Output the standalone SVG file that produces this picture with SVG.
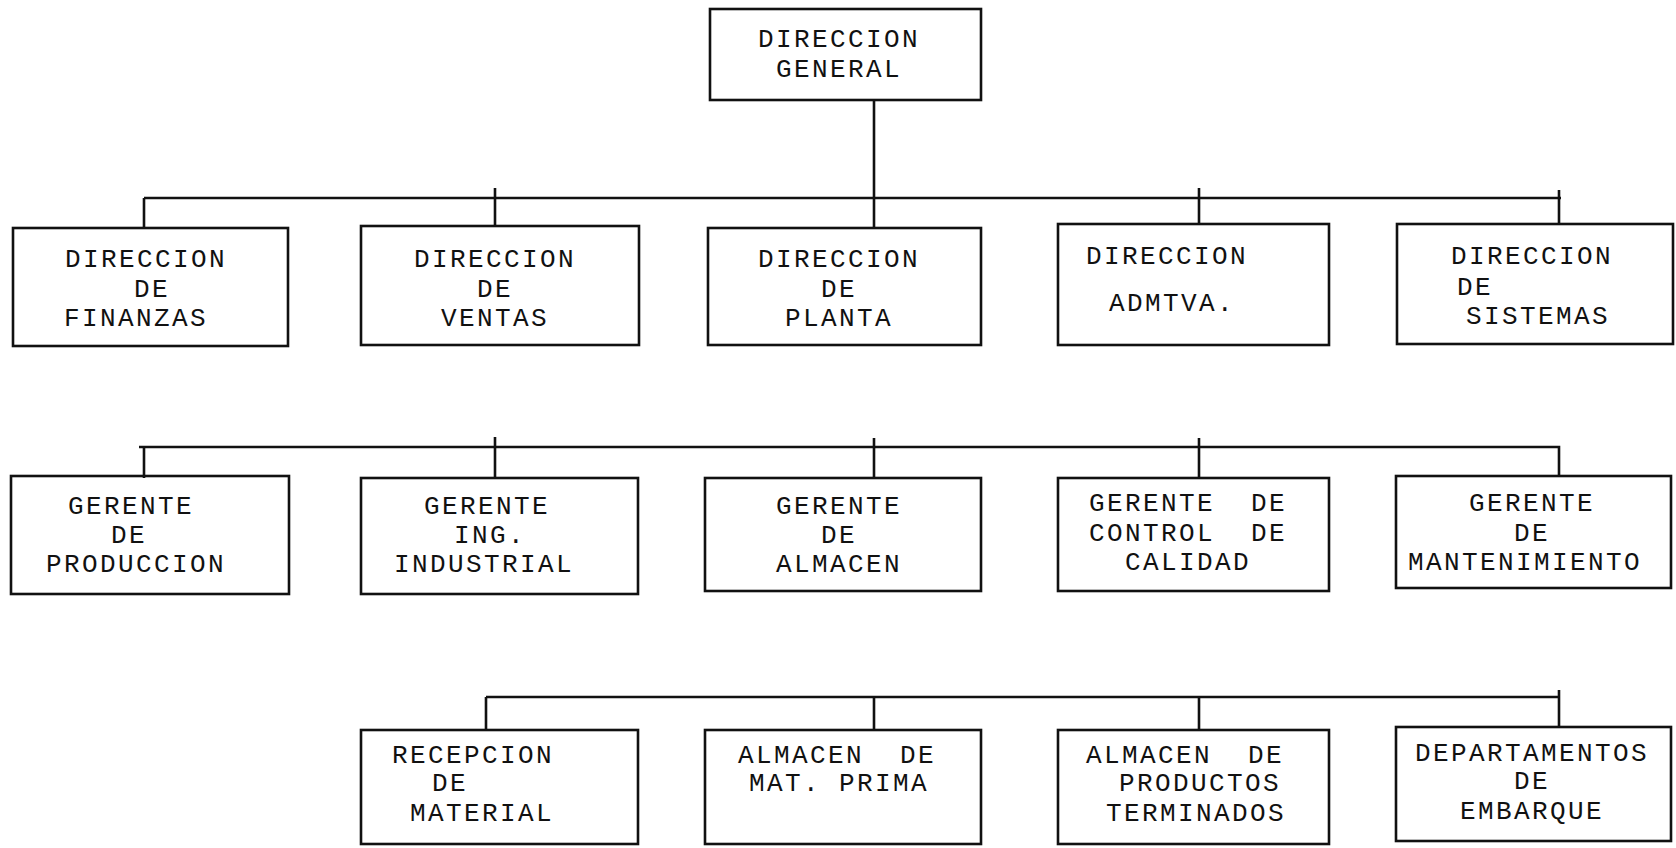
<svg xmlns="http://www.w3.org/2000/svg" width="1676" height="848" viewBox="0 0 1676 848">
<style>
.box{fill:none;stroke:#111;stroke-width:2.6}
.ln{fill:none;stroke:#111;stroke-width:2.6}
text{font-family:"Liberation Mono","DejaVu Sans Mono",monospace;font-size:26px;letter-spacing:2.4px;fill:#111;text-anchor:middle}
</style>
<rect width="1676" height="848" fill="#fff"/>
<g id="connectors">
<path class="ln" d="M874,100 V228"/>
<path class="ln" d="M144,198 H1561"/>
<path class="ln" d="M144,198 V228 M495,188 V226 M1199,188 V224 M1559,190 V224"/>
<path class="ln" d="M139,447 H1559 V476"/>
<path class="ln" d="M144,447 V478 M495,437 V478 M874,438 V478 M1199,438 V478"/>
<path class="ln" d="M486,697 H1559 V727 M1559,690 V697"/>
<path class="ln" d="M486,697 V730 M874,697 V730 M1199,697 V730"/>
</g>
<g id="dir-general"><rect class="box" x="710" y="9" width="271" height="91"/><text x="839" y="47">DIRECCION</text><text x="839" y="77">GENERAL</text></g>
<g id="dir-finanzas"><rect class="box" x="13" y="228" width="275" height="118"/><text x="146" y="267">DIRECCION</text><text x="152" y="297">DE</text><text x="136" y="326">FINANZAS</text></g>
<g id="dir-ventas"><rect class="box" x="361" y="226" width="278" height="119"/><text x="495" y="267">DIRECCION</text><text x="495" y="297">DE</text><text x="495" y="326">VENTAS</text></g>
<g id="dir-planta"><rect class="box" x="708" y="228" width="273" height="117"/><text x="839" y="267">DIRECCION</text><text x="839" y="297">DE</text><text x="839" y="326">PLANTA</text></g>
<g id="dir-admtva"><rect class="box" x="1058" y="224" width="271" height="121"/><text x="1167" y="264">DIRECCION</text><text x="1172" y="311">ADMTVA.</text></g>
<g id="dir-sistemas"><rect class="box" x="1397" y="224" width="276" height="120"/><text x="1532" y="264">DIRECCION</text><text x="1475" y="295">DE</text><text x="1538" y="324">SISTEMAS</text></g>
<g id="ger-produccion"><rect class="box" x="11" y="476" width="278" height="118"/><text x="131" y="514">GERENTE</text><text x="129" y="543">DE</text><text x="136" y="572">PRODUCCION</text></g>
<g id="ger-industrial"><rect class="box" x="361" y="478" width="277" height="116"/><text x="487" y="514">GERENTE</text><text x="490" y="543">ING.</text><text x="484" y="572">INDUSTRIAL</text></g>
<g id="ger-almacen"><rect class="box" x="705" y="478" width="276" height="113"/><text x="839" y="514">GERENTE</text><text x="839" y="543">DE</text><text x="839" y="572">ALMACEN</text></g>
<g id="ger-calidad"><rect class="box" x="1058" y="478" width="271" height="113"/><text x="1188" y="511" xml:space="preserve">GERENTE  DE</text><text x="1188" y="541" xml:space="preserve">CONTROL  DE</text><text x="1188" y="570">CALIDAD</text></g>
<g id="ger-mantenimiento"><rect class="box" x="1396" y="476" width="275" height="112"/><text x="1532" y="511">GERENTE</text><text x="1532" y="541">DE</text><text x="1525" y="570">MANTENIMIENTO</text></g>
<g id="recepcion"><rect class="box" x="361" y="730" width="277" height="114"/><text x="473" y="763">RECEPCION</text><text x="450" y="791">DE</text><text x="482" y="821">MATERIAL</text></g>
<g id="almacen-mp"><rect class="box" x="705" y="730" width="276" height="114"/><text x="837" y="763" xml:space="preserve">ALMACEN  DE</text><text x="839" y="791">MAT. PRIMA</text></g>
<g id="almacen-pt"><rect class="box" x="1058" y="730" width="271" height="114"/><text x="1185" y="763" xml:space="preserve">ALMACEN  DE</text><text x="1200" y="791">PRODUCTOS</text><text x="1196" y="821">TERMINADOS</text></g>
<g id="embarque"><rect class="box" x="1396" y="727" width="275" height="114"/><text x="1532" y="761">DEPARTAMENTOS</text><text x="1532" y="789">DE</text><text x="1532" y="819">EMBARQUE</text></g>
</svg>
